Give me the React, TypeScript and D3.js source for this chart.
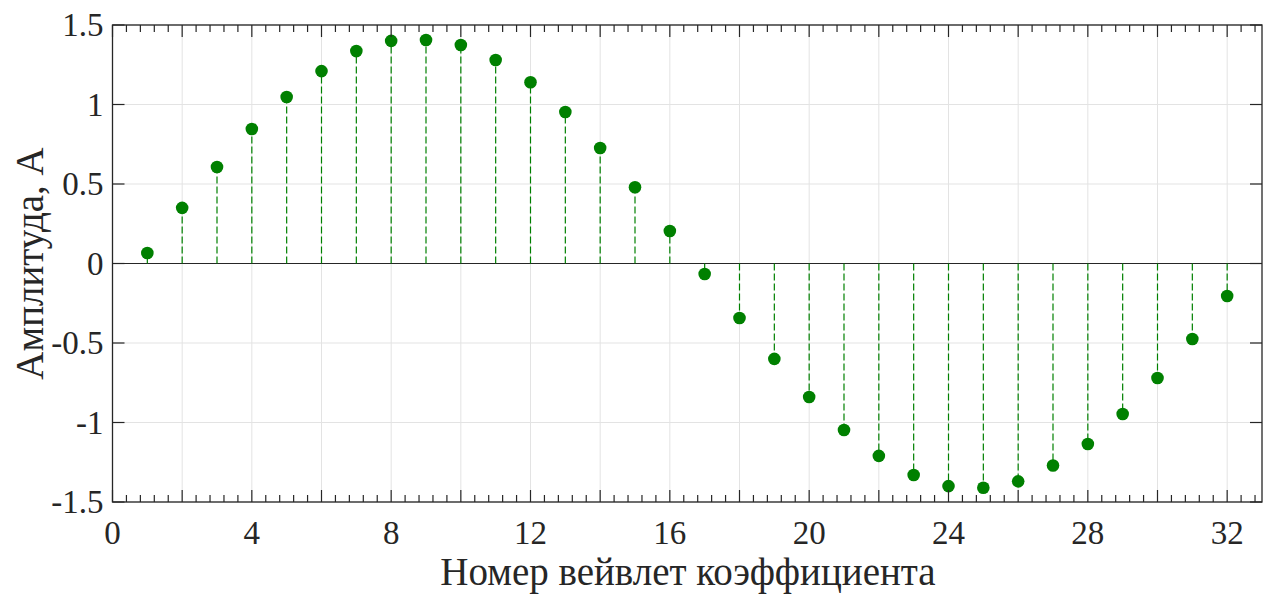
import React from "react";
import * as d3 from "d3";

const indices: number[] = [1,2,3,4,5,6,7,8,9,10,11,12,13,14,15,16,17,18,19,20,21,22,23,24,25,26,27,28,29,30,31,32];
const amplitudes: number[] = [0.066,0.35,0.607,0.846,1.047,1.21,1.336,1.40,1.406,1.374,1.28,1.14,0.953,0.726,0.48,0.204,-0.066,-0.343,-0.60,-0.84,-1.047,-1.21,-1.33,-1.40,-1.41,-1.37,-1.27,-1.135,-0.947,-0.72,-0.475,-0.204];
const xLabelTicks: number[] = [0,4,8,12,16,20,24,28,32];
const yTicks: number[] = [-1.5,-1,-0.5,0,0.5,1,1.5];
const xTitle = "Номер вейвлет коэффициента";
const yTitle = "Амплитуда, А";

const W = 1271, H = 595;
const L = 112.5, R = 1262, T = 25, B = 502;

export default function App() {
  const x = d3.scaleLinear().domain([0, 33]).range([L, R]);
  const y = d3.scaleLinear().domain([-1.5, 1.5]).range([B, T]);
  const minor = d3.range(0, 33.001, 0.4).map(v => Math.round(v * 10) / 10);
  const major = d3.range(0, 33, 2);
  const isMajor = (v: number) => Math.abs(v / 2 - Math.round(v / 2)) < 1e-6;
  const axisColor = "#262626";
  const font = "Times New Roman, Liberation Serif, serif";
  const green = "#008000";
  const fmt = (v: number) => (v === 0 ? "0" : String(v));
  return (
    <svg width={W} height={H} style={{ position: "absolute", left: 0, top: 0, background: "#fff" }}>
      <rect x={0} y={0} width={W} height={H} fill="#fff" />
      {major.filter(v => v > 0).map(v => (
        <line key={"gx" + v} x1={x(v)} x2={x(v)} y1={T} y2={B} stroke="#e3e3e3" strokeWidth={1} />
      ))}
      {yTicks.map(v => (
        <line key={"gy" + v} x1={L} x2={R} y1={y(v)} y2={y(v)} stroke="#e3e3e3" strokeWidth={1} />
      ))}
      <line x1={L} x2={R} y1={y(0)} y2={y(0)} stroke={axisColor} strokeWidth={1} />
      {indices.map((n, i) => (
        <g key={"s" + n}>
          <line x1={x(n)} x2={x(n)} y1={y(0)} y2={y(amplitudes[i])} stroke={green} strokeWidth={1.2} strokeDasharray="7,3" />
          <circle cx={x(n)} cy={y(amplitudes[i])} r={6.3} fill={green} />
        </g>
      ))}
      <rect x={L} y={T} width={R - L} height={B - T} fill="none" stroke={axisColor} strokeWidth={1.3} />
      {minor.map(v => {
        const len = isMajor(v) ? 12 : 7;
        return (
          <g key={"xt" + v}>
            <line x1={x(v)} x2={x(v)} y1={B} y2={B - len} stroke={axisColor} strokeWidth={1.2} />
            <line x1={x(v)} x2={x(v)} y1={T} y2={T + len} stroke={axisColor} strokeWidth={1.2} />
          </g>
        );
      })}
      {yTicks.map(v => (
        <g key={"yt" + v}>
          <line x1={L} x2={L + 12} y1={y(v)} y2={y(v)} stroke={axisColor} strokeWidth={1.2} />
          <line x1={R} x2={R - 12} y1={y(v)} y2={y(v)} stroke={axisColor} strokeWidth={1.2} />
          <text x={L - 9} y={y(v)} dy="0.34em" textAnchor="end" fontFamily={font} fontSize={33} fill={axisColor}>{fmt(v)}</text>
        </g>
      ))}
      {xLabelTicks.map(v => (
        <text key={"xl" + v} x={x(v)} y={544} textAnchor="middle" fontFamily={font} fontSize={33} fill={axisColor}>{v}</text>
      ))}
      <text x={688} y={585} textAnchor="middle" fontFamily={font} fontSize={39} fill={axisColor}>{xTitle}</text>
      <text transform={`translate(43, ${(T + B) / 2}) rotate(-90)`} textAnchor="middle" fontFamily={font} fontSize={39} fill={axisColor}>{yTitle}</text>
    </svg>
  );
}
